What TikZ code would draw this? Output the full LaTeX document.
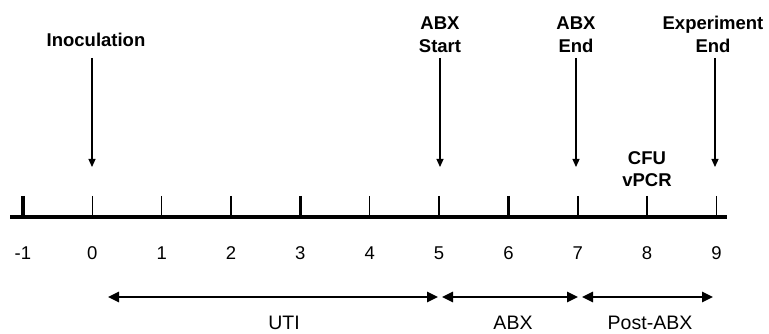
\documentclass[tikz,border=0pt]{standalone}
\usepackage{fontspec}
\setmainfont{Liberation Sans}
\usetikzlibrary{arrows.meta}
\begin{document}
\begin{tikzpicture}[x=1pt,y=-1pt,
  hdr/.style={font=\fontsize{18.5}{23}\selectfont\bfseries, align=center, inner sep=0pt, anchor=base},
  num/.style={font=\fontsize{18.5}{22}\selectfont, inner sep=0pt, anchor=base},
  spanlbl/.style={font=\fontsize{19.5}{22}\selectfont, inner sep=0pt, anchor=base},
  axisline/.style={line width=3.5pt, draw=black},
  thintick/.style={line width=1.5pt},
  thicktick/.style={line width=3.5pt},
  darr/.style={line width=1.2pt, -{Triangle[length=8pt,width=7pt]}},
  barr/.style={line width=2.5pt, {Triangle[length=11pt,width=10pt]}-{Triangle[length=11pt,width=10pt]}}
]
\useasboundingbox (0,0) rectangle (769,334);
% axis
\coordinate (axL) at (10,217);
\coordinate (axR) at (727,217);
\draw[axisline] (axL) -- (axR);
% ticks and numbers
\foreach \i [count=\k] in {-1,0,...,9} {
  \pgfmathsetmacro\xx{92.3+69.35*\i}
  \coordinate (tt\k) at (\xx,196);
  \coordinate (tb\k) at (\xx,217);
  \node[num] (n\k) at (\xx,259) {\i};
}
\foreach \k in {2,3,4,6,7,9,10,11} { \draw[thintick] (tt\k) -- (tb\k); }
\foreach \k in {1,5,8} { \draw[thicktick] (tt\k) -- (tb\k); }
% event labels (base = baseline of last line)
\node[hdr] (inoc) at (96,47) {Inoculation};
\node[hdr] (abxs) at (440,52.5) {ABX\\Start};
\node[hdr] (abxe) at (576,52.5) {ABX\\End};
\node[hdr] (expe) at (713,52.5) {Experiment\\End};
\node[hdr] (cfu) at (647,187) {CFU\\vPCR};
% down arrows
\coordinate (s0) at (92,58);   \coordinate (e0) at (92,167);
\coordinate (s5) at (440,58);  \coordinate (e5) at (440,167);
\coordinate (s7) at (576,58);  \coordinate (e7) at (576,167);
\coordinate (s9) at (715,58);  \coordinate (e9) at (715,167);
\draw[darr] (s0) -- (e0);
\draw[darr] (s5) -- (e5);
\draw[darr] (s7) -- (e7);
\draw[darr] (s9) -- (e9);
% span arrows
\coordinate (u1) at (108,297); \coordinate (u2) at (438,297);
\coordinate (a1) at (442,297); \coordinate (a2) at (578,297);
\coordinate (p1) at (582,297); \coordinate (p2) at (713,297);
\draw[barr] (u1) -- (u2);
\draw[barr] (a1) -- (a2);
\draw[barr] (p1) -- (p2);
\node[spanlbl] (uti) at (284,329) {UTI};
\node[spanlbl] (abx) at (513,329) {ABX};
\node[spanlbl] (post) at (650,329) {Post-ABX};
\end{tikzpicture}
\end{document}
